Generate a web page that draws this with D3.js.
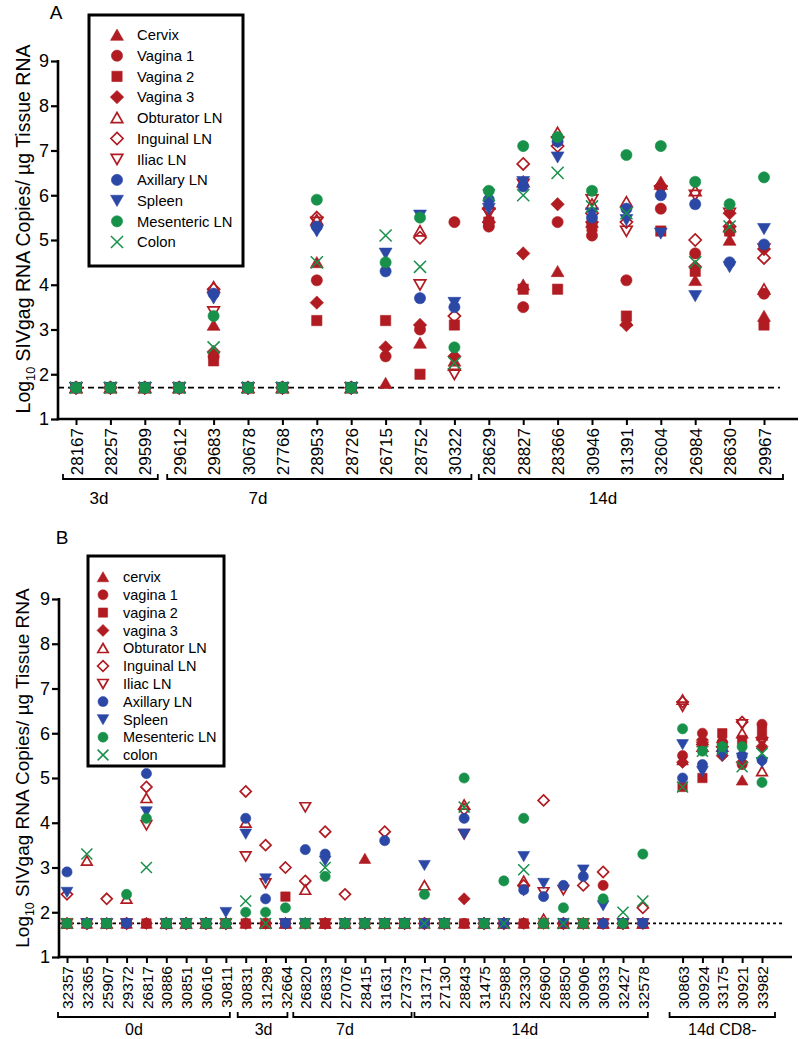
<!DOCTYPE html>
<html><head><meta charset="utf-8">
<script src="https://cdn.jsdelivr.net/npm/d3@7"></script>
<style>body{margin:0;background:#fff}svg{display:block}</style>
</head><body>
<svg id="chart" width="800" height="1039"></svg>
<script>
// ---------------- DATA ----------------
const yTicks = [1,2,3,4,5,6,7,8,9];
const LA = 1.7;   // limit of detection, panel A
const LB = 1.75;  // limit of detection, panel B

const legendA = ["Cervix","Vagina 1","Vagina 2","Vagina 3","Obturator LN","Inguinal LN","Iliac LN","Axillary LN","Spleen","Mesenteric LN","Colon"];
const legendB = ["cervix","vagina 1","vagina 2","vagina 3","Obturator LN","Inguinal LN","Iliac LN","Axillary LN","Spleen","Mesenteric LN","colon"];

const catsA = ["28167","28257","29599","29612","29683","30678","27768","28953","28726","26715","28752","30322","28629","28827","28366","30946","31391","32604","26984","28630","29967"];
const groupNamesA = ["3d","7d","14d"];
const groupFirstA = ["28167","29612","28629"];
const groupLastA  = ["29599","30322","29967"];

const cervixA     = [LA,LA,LA,LA,3.1,LA,LA,4.5,LA,1.8,2.7,2.3,5.5,4.0,4.3,5.4,3.2,6.3,4.1,5.0,3.3];
const vagina1A    = [LA,LA,LA,LA,2.4,LA,LA,4.1,LA,2.4,3.0,5.4,5.3,3.5,5.4,5.1,4.1,5.7,4.7,5.2,3.8];
const vagina2A    = [LA,LA,LA,LA,2.3,LA,LA,3.2,LA,3.2,2.0,3.1,5.4,3.9,3.9,5.3,3.3,5.2,4.3,5.2,3.1];
const vagina3A    = [LA,LA,LA,LA,2.5,LA,LA,3.6,LA,2.6,3.1,2.4,5.4,4.7,5.8,5.4,3.1,6.2,4.4,5.6,4.8];
const obturatorA  = [LA,LA,LA,LA,3.95,LA,LA,5.45,LA,null,5.2,2.2,5.8,6.3,7.4,5.8,5.85,6.25,6.1,5.3,3.9];
const inguinalA   = [LA,LA,LA,LA,3.9,LA,LA,5.5,LA,null,5.05,3.3,5.7,6.7,7.1,5.6,5.4,6.2,5.0,5.3,4.6];
const iliacA      = [LA,LA,LA,LA,3.4,LA,LA,5.4,LA,null,4.0,2.0,5.6,6.25,7.2,5.9,5.2,6.1,6.0,5.6,4.8];
const axillaryA   = [LA,LA,LA,LA,3.8,LA,LA,5.3,LA,4.3,3.7,3.5,5.9,6.2,7.2,5.5,5.7,6.0,5.8,4.5,4.9];
const spleenA     = [LA,LA,LA,LA,3.7,LA,LA,5.2,LA,4.7,5.55,3.6,5.7,6.3,6.85,5.6,5.45,5.15,3.75,4.4,5.25];
const mesentericA = [LA,LA,LA,LA,3.3,LA,LA,5.9,LA,4.5,5.5,2.6,6.1,7.1,7.3,6.1,6.9,7.1,6.3,5.8,6.4];
const colonA      = [LA,LA,LA,LA,2.6,LA,LA,4.5,LA,5.1,4.4,2.25,6.0,6.0,6.5,5.75,5.6,null,4.5,5.3,null];

const catsB = ["32357","32365","25907","29372","26817","30886","30851","30616","30811",
               "30831","31298","32664",
               "26820","26833","27076","28415","31631","27373",
               "31371","27130","28843","31475","25988","32330","26960","28850","30906","30933","32427","32578",
               "30863","30924","33175","30921","33982"];
const groupNamesB = ["0d","3d","7d","14d","14d CD8-"];
const groupFirstB = ["32357","30831","26820","31371","30863"];
const groupLastB  = ["30811","32664","27373","32578","33982"];

const cervixB     = [LB,LB,LB,LB,LB,LB,LB,LB,LB, LB,LB,LB, LB,LB,LB,3.2,LB,LB, LB,LB,LB,LB,LB,LB,LB,LB,LB,LB,LB,LB, 5.4,5.8,5.9,4.95,5.95];
const vagina1B    = [LB,LB,LB,LB,LB,LB,LB,LB,LB, LB,LB,LB, LB,LB,LB,LB,LB,LB, LB,LB,LB,LB,LB,LB,LB,LB,LB,2.6,LB,LB, 5.5,6.0,5.8,5.3,6.2];
const vagina2B    = [LB,LB,LB,LB,LB,LB,LB,LB,LB, LB,LB,2.35, LB,LB,LB,LB,LB,LB, LB,LB,LB,LB,LB,LB,LB,LB,LB,LB,LB,LB, 4.8,5.0,6.0,5.85,6.05];
const vagina3B    = [LB,LB,LB,LB,LB,LB,LB,LB,LB, LB,LB,LB, LB,LB,LB,LB,LB,LB, LB,LB,2.3,LB,LB,LB,LB,LB,LB,LB,LB,LB, 5.35,5.85,5.5,5.35,5.7];
const obturatorB  = [LB,3.15,LB,2.3,4.55,LB,LB,LB,LB, 4.0,LB,LB, 2.5,LB,LB,LB,LB,LB, 2.6,LB,4.4,LB,LB,2.7,1.85,LB,LB,LB,LB,LB, 6.75,5.7,5.7,6.0,5.15];
const inguinalB   = [2.4,LB,2.3,LB,4.8,LB,LB,LB,LB, 4.7,3.5,3.0, 2.7,3.8,2.4,LB,3.8,LB, LB,LB,4.3,LB,LB,2.6,4.5,LB,2.6,2.9,LB,2.1, 6.7,5.75,5.7,6.25,5.9];
const iliacB      = [LB,LB,LB,LB,3.95,LB,LB,LB,LB, 3.25,2.65,LB, 4.35,LB,LB,LB,LB,LB, LB,LB,3.75,LB,LB,2.5,2.45,2.5,LB,LB,LB,LB, 6.6,5.7,5.6,6.2,5.8];
const axillaryB   = [2.9,LB,LB,LB,5.1,LB,LB,LB,LB, 4.1,2.3,LB, 3.4,3.3,LB,LB,3.6,LB, LB,LB,4.1,LB,LB,2.5,2.35,2.6,2.8,LB,LB,LB, 5.0,5.3,5.6,5.5,5.4];
const spleenB     = [2.45,LB,LB,LB,4.25,LB,LB,LB,2.0, 3.75,2.75,LB, LB,3.15,LB,LB,LB,LB, 3.05,LB,3.75,LB,LB,3.25,2.65,LB,2.95,2.15,LB,LB, 5.75,5.15,5.5,5.45,5.35];
const mesentericB = [LB,LB,LB,2.4,4.1,LB,LB,LB,LB, 2.0,2.0,2.1, LB,2.8,LB,LB,LB,LB, 2.4,LB,5.0,LB,2.7,4.1,LB,2.1,LB,2.3,LB,3.3, 6.1,5.6,5.7,5.7,4.9];
const colonB      = [LB,3.3,LB,null,3.0,LB,LB,LB,LB, 2.25,LB,null, LB,3.0,LB,LB,LB,LB, LB,LB,4.35,LB,LB,2.95,LB,LB,LB,null,2.0,2.25, 4.8,5.6,5.65,5.25,5.55];

// ---------------- STYLE ----------------
const FONT = "'Liberation Sans', Arial, Helvetica, sans-serif";
const RED = "#b01c22", BLUE = "#2c48a6", GREEN = "#17904a";
const styles = [
  {shape:"up",      color:RED,   open:false},
  {shape:"circle",  color:RED,   open:false},
  {shape:"square",  color:RED,   open:false},
  {shape:"diamond", color:RED,   open:false},
  {shape:"up",      color:RED,   open:true},
  {shape:"diamond", color:RED,   open:true},
  {shape:"down",    color:RED,   open:true},
  {shape:"circle",  color:BLUE,  open:false},
  {shape:"down",    color:BLUE,  open:false},
  {shape:"circle",  color:GREEN, open:false},
  {shape:"x",       color:GREEN, open:true}
];

function symPath(shape, r){
  const p = d3.path();
  if (shape === "circle") { p.arc(0,0,r,0,2*Math.PI); p.closePath(); }
  else if (shape === "square") { const s = r*0.92; p.rect(-s,-s,2*s,2*s); }
  else if (shape === "diamond") { const d = r*1.2; p.moveTo(0,-d); p.lineTo(d,0); p.lineTo(0,d); p.lineTo(-d,0); p.closePath(); }
  else if (shape === "up") { p.moveTo(0,-r*1.05); p.lineTo(r*1.15,r*0.95); p.lineTo(-r*1.15,r*0.95); p.closePath(); }
  else if (shape === "down") { p.moveTo(0,r*1.05); p.lineTo(r*1.15,-r*0.95); p.lineTo(-r*1.15,-r*0.95); p.closePath(); }
  else if (shape === "x") { const a = r*1.2; p.moveTo(-a,-a); p.lineTo(a,a); p.moveTo(-a,a); p.lineTo(a,-a); }
  return p.toString();
}
function drawSymbol(sel, st, r){
  const rr = st.open ? r*0.9 : r;
  sel.attr("d", symPath(st.shape, rr))
     .attr("fill", st.open ? "none" : st.color)
     .attr("stroke", st.color)
     .attr("stroke-width", st.open ? (st.shape === "x" ? 1.5 : 1.7) : 0.6);
}

const svg = d3.select("#chart");

function drawPanel(o){
  const g = svg.append("g");
  const x = d3.scalePoint().domain(o.domain).range(o.xRange);
  const y = d3.scaleLinear().domain([1,9]).range(o.yRange);
  const xi = f => o.xRange[0] + f * x.step();

  // y axis
  const ya = g.append("g").attr("transform", `translate(${o.axisX},0)`)
    .call(d3.axisLeft(y).tickValues(yTicks).tickFormat(d3.format("d")).tickSize(7).tickPadding(2).tickSizeOuter(0));
  ya.select(".domain").remove();
  ya.selectAll(".tick line").attr("stroke","#000").attr("stroke-width",2.2);
  ya.selectAll(".tick text").attr("font-size",o.yFont).attr("font-family",FONT).attr("fill","#000");
  g.append("line").attr("x1",o.axisX).attr("x2",o.axisX).attr("y1",y(9)-1).attr("y2",y(1)+1.3)
    .attr("stroke","#000").attr("stroke-width",2.6);

  // x axis
  g.append("line").attr("x1",o.axisX-1.3).attr("x2",o.xEnd).attr("y1",y(1)).attr("y2",y(1))
    .attr("stroke","#000").attr("stroke-width",2.6);
  const xa = g.append("g").attr("transform",`translate(0,${y(1)})`)
    .call(d3.axisBottom(x).tickValues(o.cats).tickSize(6).tickSizeOuter(0));
  xa.select(".domain").remove();
  xa.selectAll(".tick line").attr("stroke","#000").attr("stroke-width",2);
  xa.selectAll(".tick text")
    .attr("transform","rotate(-90)").attr("x",-9).attr("y",0).attr("dy","0.36em")
    .attr("text-anchor","end").attr("font-size",o.xFont).attr("font-family",FONT).attr("fill","#000");

  // limit of detection line
  g.append("line").attr("x1",o.axisX).attr("x2",o.dashEnd).attr("y1",y(o.lod)).attr("y2",y(o.lod))
    .attr("stroke","#000").attr("stroke-width",1.8).attr("stroke-dasharray",o.dash);

  // group brackets
  o.groupNames.forEach((name,k) => {
    const x1 = x(o.groupFirst[k]) - o.padL[k], x2 = x(o.groupLast[k]) + o.padR[k];
    g.append("path").attr("d",`M${x1},${o.bracketY-5}V${o.bracketY}H${x2}V${o.bracketY-5}`)
      .attr("fill","none").attr("stroke","#000").attr("stroke-width",1.8);
    g.append("text").attr("x",xi(o.groupLabelAt[k])).attr("y",o.groupLabelY).attr("text-anchor","middle")
      .attr("font-size",o.gFont).attr("font-family",FONT).text(name);
  });

  // data points
  o.series.forEach((vals,k) => {
    const st = styles[k];
    const pts = vals.map((v,i) => ({v, c:o.cats[i]})).filter(d => d.v != null);
    g.append("g").selectAll("path").data(pts).join("path")
      .attr("transform", d => `translate(${x(d.c)},${y(d.v)})`)
      .call(drawSymbol, st, o.r);
  });

  // y label
  const yl = g.append("text").attr("transform",`translate(${o.ylabX},${o.ylabY}) rotate(-90)`)
    .attr("text-anchor","middle").attr("font-size",o.ylabFont).attr("font-family",FONT);
  yl.append("tspan").text("Log");
  yl.append("tspan").attr("font-size","0.65em").attr("dy",5).text("10");
  yl.append("tspan").attr("dy",-5).text(" SIVgag RNA Copies/ \u00b5g Tissue RNA");

  // legend
  const lg = g.append("g");
  lg.append("rect").attr("x",o.lgBox[0]).attr("y",o.lgBox[1]).attr("width",o.lgBox[2]).attr("height",o.lgBox[3])
    .attr("fill","#fff").attr("stroke","#000").attr("stroke-width",3);
  o.legend.forEach((name,k) => {
    const yy = o.lgY0 + k*o.lgDy;
    lg.append("path").attr("transform",`translate(${o.lgSymX},${yy})`).call(drawSymbol, styles[k], o.lgR);
    lg.append("text").attr("x",o.lgTextX).attr("y",yy).attr("dy","0.36em")
      .attr("font-size",o.lgFont).attr("font-family",FONT).text(name);
  });

  // panel letter
  g.append("text").attr("x",o.letterPos[0]).attr("y",o.letterPos[1]).attr("text-anchor","middle")
    .attr("font-size",19).attr("font-family",FONT).text(o.letter);
}

drawPanel({
  letter:"A", letterPos:[56,19],
  cats:catsA, domain:catsA, xRange:[76,764], yRange:[419,61],
  axisX:58, xEnd:798, dashEnd:780, dash:"6,4", lod:LA,
  yFont:18, xFont:17, gFont:17, r:5.6,
  series:[cervixA,vagina1A,vagina2A,vagina3A,obturatorA,inguinalA,iliacA,axillaryA,spleenA,mesentericA,colonA],
  groupNames:groupNamesA, groupFirst:groupFirstA, groupLast:groupLastA,
  padL:[13,12,10], padR:[13,17,19], bracketY:479, groupLabelY:504, groupLabelAt:[0.67,5.29,15.32],
  ylabX:30, ylabY:229, ylabFont:19.5,
  legend:legendA, lgBox:[89,15,154,251], lgY0:35, lgDy:20.7, lgSymX:117, lgTextX:137, lgFont:14.8, lgR:5.6
});

drawPanel({
  letter:"B", letterPos:[62,544],
  cats:catsB, domain:[...catsB.slice(0,30), "gap", ...catsB.slice(30)], xRange:[67,762], yRange:[957,599],
  axisX:59, xEnd:792, dashEnd:785, dash:"3,3", lod:LB,
  yFont:18, xFont:15.5, gFont:16, r:5.1,
  series:[cervixB,vagina1B,vagina2B,vagina3B,obturatorB,inguinalB,iliacB,axillaryB,spleenB,mesentericB,colonB],
  groupNames:groupNamesB, groupFirst:groupFirstB, groupLast:groupLastB,
  padL:[9,8,12,10,13], padR:[4,2,7,5,13], bracketY:1017, groupLabelY:1035, groupLabelAt:[3.37,9.9,14.0,23.06,33.0],
  ylabX:29, ylabY:768, ylabFont:19,
  legend:legendB, lgBox:[88,556,136,210], lgY0:577, lgDy:17.8, lgSymX:103, lgTextX:123, lgFont:14.5, lgR:5
});
</script>
</body></html>
